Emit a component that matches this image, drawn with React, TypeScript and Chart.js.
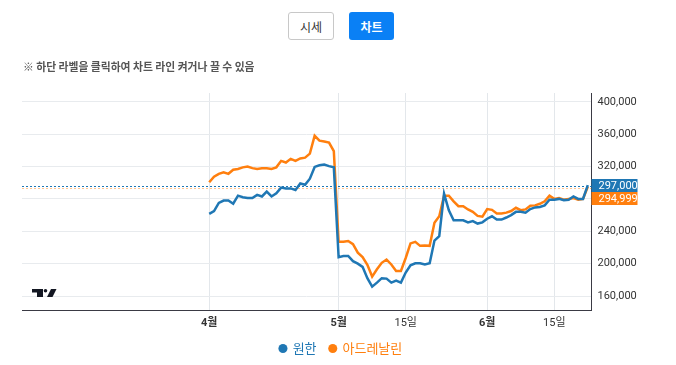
import React, { useEffect, useRef } from 'react';
import { Chart, registerables } from 'chart.js';

Chart.register(...registerables);

const dates = [
  '04-04','04-05','04-06','04-07','04-08','04-09','04-10','04-11','04-12','04-13',
  '04-14','04-15','04-16','04-17','04-18','04-19','04-20','04-21','04-22','04-23',
  '04-24','04-25','04-26','04-27','04-28','04-29','04-30','05-01','05-02','05-03',
  '05-04','05-05','05-06','05-07','05-08','05-09','05-10','05-11','05-12','05-13',
  '05-14','05-15','05-16','05-17','05-18','05-19','05-20','05-21','05-22','05-23',
  '05-24','05-25','05-26','05-27','05-28','05-29','05-30','05-31','06-01','06-02',
  '06-03','06-04','06-05','06-06','06-07','06-08','06-09','06-10','06-11','06-12',
  '06-13','06-14','06-15','06-16','06-17','06-18','06-19','06-20','06-21','06-22',
];

const wonhan = [
  261500, 265000, 275000, 278000, 278000, 274000, 284000, 282000, 281000, 281000,
  285000, 283000, 289000, 283000, 287000, 294000, 293000, 293000, 291000, 299000,
  297500, 305000, 319500, 321500, 322500, 320500, 319000, 208000, 209500, 209500,
  203000, 200000, 196000, 182000, 171500, 176500, 182000, 181500, 176500, 179000,
  176500, 189000, 198000, 200500, 200500, 199000, 200500, 228500, 234000, 286500,
  266000, 253500, 253500, 253500, 251000, 252500, 249500, 251000, 255500, 258500,
  254500, 254500, 257000, 260000, 264000, 264000, 263000, 267500, 269500, 270000,
  272000, 279000, 279000, 280000, 278500, 279000, 283000, 280000, 280000, 297000,
];

const adrenaline = [
  300500, 307500, 311000, 313000, 311000, 316000, 317000, 319000, 320000, 318000,
  317000, 318000, 318000, 317000, 319000, 327000, 325000, 329500, 327000, 330000,
  331000, 336000, 358000, 352000, 351000, 349500, 339000, 227000, 227000, 228000,
  224000, 213500, 208000, 198500, 184000, 193000, 201000, 205000, 199000, 191000,
  191000, 207000, 225000, 227000, 222000, 222500, 222000, 250500, 258500, 284000,
  284000, 277000, 271000, 271000, 267000, 264000, 259000, 258000, 267500, 266500,
  262000, 262000, 263000, 265000, 269000, 266000, 267000, 271500, 272000, 274000,
  277000, 284000, 280000, 281000, 279000, 280000, 281000, 279000, 280000, 294999,
];

const seriesNames = ['원한', '아드레날린'];
const seriesColors = ['#1f77b4', '#ff7f0e'];

const xTickDates = ['04-04', '05-01', '05-15', '06-01', '06-15'];
const xTickLabels = ['4월', '5월', '15일', '6월', '15일'];
const yTickValues = [160000, 200000, 240000, 280000, 320000, 360000, 400000];
const yHiddenTicks = [280000];

const FONT = "Roboto, 'Noto Sans CJK KR', sans-serif";
const KFONT = "'Noto Sans CJK KR', 'Noto Sans', sans-serif";

const fmt = (v: number) => v.toLocaleString('en-US');

const lastValuePlugin = {
  id: 'lastValue',
  beforeDatasetsDraw(chart: any) {
    const { ctx, chartArea, scales } = chart;
    const y = scales.y;
    ctx.save();
    ctx.lineWidth = 1;
    ctx.setLineDash([2, 2]);
    [1, 0].forEach((i) => {
      const ds = chart.data.datasets[i];
      const v = ds.data[ds.data.length - 1].y;
      const py = Math.round(y.getPixelForValue(v)) + 1.5;
      ctx.strokeStyle = ds.borderColor;
      ctx.globalAlpha = i === 1 ? 0.45 : 1;
      ctx.beginPath();
      ctx.moveTo(chartArea.left, py);
      ctx.lineTo(chartArea.right, py);
      ctx.stroke();
    });
    ctx.restore();
  },
  afterDraw(chart: any) {
    const { ctx, chartArea, scales } = chart;
    const y = scales.y;
    const h = 13;
    const w = 46;
    let prevBottom = -Infinity;
    const items = chart.data.datasets.map((ds: any) => {
      const v = ds.data[ds.data.length - 1].y;
      return { v, color: ds.borderColor, py: y.getPixelForValue(v) };
    });
    items.sort((a: any, b: any) => a.py - b.py);
    ctx.save();
    items.forEach((it: any) => {
      let top = Math.round(it.py - h / 2);
      if (top < prevBottom) top = prevBottom;
      prevBottom = top + h;
      ctx.fillStyle = it.color;
      ctx.fillRect(chartArea.right, top, w, h);
      ctx.fillStyle = '#ffffff';
      ctx.font = `11px ${FONT}`;
      ctx.textBaseline = 'middle';
      ctx.textAlign = 'left';
      ctx.fillText(fmt(it.v), chartArea.right + 7, top + h / 2 + 0.5);
    });
    // TradingView-like logo
    const lx = chartArea.left + 10;
    const ly = chartArea.bottom - 21.5;
    ctx.fillStyle = '#131722';
    ctx.fillRect(lx, ly, 11, 3.5);
    ctx.fillRect(lx + 5, ly, 6, 8);
    ctx.beginPath();
    ctx.arc(lx + 13.5, ly + 1.7, 1.8, 0, Math.PI * 2);
    ctx.fill();
    ctx.beginPath();
    ctx.moveTo(lx + 15, ly + 8);
    ctx.lineTo(lx + 19, ly);
    ctx.lineTo(lx + 24.5, ly);
    ctx.lineTo(lx + 20.5, ly + 8);
    ctx.closePath();
    ctx.fill();
    ctx.restore();
  },
};

function ChartView() {
  const ref = useRef<HTMLCanvasElement | null>(null);
  useEffect(() => {
    if (!ref.current) return;
    const values = [wonhan, adrenaline];
    const chart = new Chart(ref.current, {
      type: 'line',
      data: {
        datasets: values.map((arr, s) => ({
          label: seriesNames[s],
          data: arr.map((v, i) => ({ x: i, y: v })),
          borderColor: seriesColors[s],
          backgroundColor: seriesColors[s],
          borderWidth: 2.5,
          pointRadius: 0,
          tension: 0,
          yAxisID: 'y',
        })),
      },
      options: {
        responsive: false,
        animation: false,
        events: [],
        layout: { padding: { left: 6, top: 93, right: 0, bottom: 0 } },
        scales: {
          x: {
            type: 'linear',
            min: -39.07,
            max: 79.77,
            afterFit: (s: any) => { s.height = 18.5; },
            afterBuildTicks: (s: any) => {
              s.ticks = xTickDates.map((d) => ({ value: dates.indexOf(d) }));
            },
            ticks: {
              autoSkip: false,
              maxRotation: 0,
              padding: 6,
              color: '#333',
              font: (c: any) => ({
                size: 11,
                family: FONT,
                weight: c.tick && String(c.tick.label).includes('월') ? 'bold' : 'normal',
              }),
              callback: (value: any) => {
                const i = xTickDates.findIndex((d) => dates.indexOf(d) === value);
                return i >= 0 ? xTickLabels[i] : '';
              },
            },
            grid: { color: '#e3e7eb', drawTicks: false },
            border: { display: true, color: '#3a3a44', width: 1 },
          },
          y: {
            position: 'right',
            min: 142081,
            max: 410875,
            afterFit: (s: any) => { s.width = 84.5; },
            afterBuildTicks: (s: any) => {
              s.ticks = yTickValues.map((v) => ({ value: v }));
            },
            ticks: {
              padding: 6,
              color: '#333',
              font: { size: 11, family: FONT },
              callback: (v: any) => (yHiddenTicks.includes(v) ? '' : fmt(v)),
            },
            grid: { color: '#e8ebee', drawTicks: false },
            border: { display: true, color: '#3a3a44', width: 1 },
          },
          yLeft: {
            position: 'left',
            display: true,
            afterFit: (s: any) => { s.width = 16; },
            ticks: { display: false },
            grid: { display: false, drawTicks: false },
            border: { display: false },
          },
        },
        plugins: {
          tooltip: { enabled: false },
          legend: {
            position: 'bottom',
            labels: {
              usePointStyle: true,
              pointStyle: 'circle',
              boxWidth: 6.4,
              boxHeight: 6.4,
              padding: 13,
              font: { size: 13, family: KFONT },
              generateLabels: (c: any) => {
                const items = (Chart.defaults.plugins.legend.labels as any).generateLabels(c);
                items.forEach((it: any, i: number) => {
                  it.fontColor = seriesColors[i];
                  it.fillStyle = seriesColors[i];
                  it.strokeStyle = seriesColors[i];
                  it.lineWidth = 0;
                });
                return items;
              },
            },
          },
        },
      } as any,
      plugins: [lastValuePlugin],
    });
    return () => chart.destroy();
  }, []);
  return <canvas ref={ref} width={676} height={365} style={{ position: 'absolute', left: 0, top: 0 }} />;
}

export default function App() {
  return (
    <div style={{ position: 'absolute', left: 0, top: 0, width: 676, height: 365, background: '#fff', overflow: 'hidden' }}>
      <ChartView />
      <div
        style={{
          position: 'absolute', left: 288, top: 12, width: 46, height: 28, boxSizing: 'border-box',
          border: '1px solid #c8c8c8', borderRadius: 3, background: '#fff', color: '#333',
          fontFamily: KFONT, fontSize: 12, display: 'flex', alignItems: 'center', justifyContent: 'center',
        }}
      >
        시세
      </div>
      <div
        style={{
          position: 'absolute', left: 349, top: 12, width: 45, height: 28, boxSizing: 'border-box',
          borderRadius: 3, background: '#0a80f5', color: '#fff', fontWeight: 'bold',
          fontFamily: KFONT, fontSize: 12, display: 'flex', alignItems: 'center', justifyContent: 'center',
        }}
      >
        차트
      </div>
      <div
        style={{
          position: 'absolute', left: 23, top: 59, fontFamily: KFONT, fontSize: 10.8, lineHeight: '14px',
          fontWeight: 'bold', color: '#555', whiteSpace: 'nowrap',
        }}
      >
        ※ 하단 라벨을 클릭하여 차트 라인 켜거나 끌 수 있음
      </div>
    </div>
  );
}
